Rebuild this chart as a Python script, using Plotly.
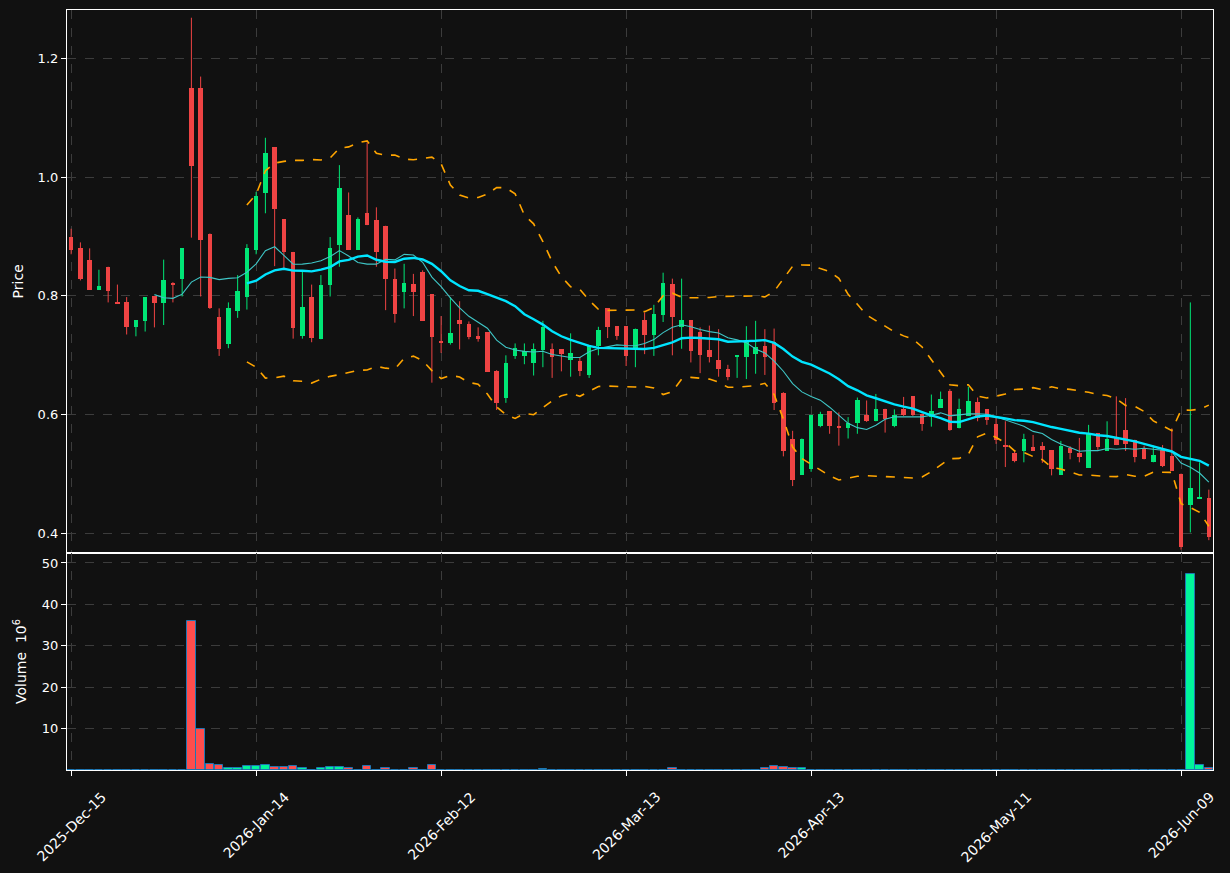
import pandas as pd
import plotly.graph_objects as go

# ---------------- data ----------------
holidays = ["2025-12-25", "2026-01-01", "2026-01-19", "2026-02-16", "2026-04-03", "2026-05-25"]
dates = pd.bdate_range("2025-12-15", "2026-06-12", freq="C", holidays=holidays)

opens = [0.899, 0.880, 0.860, 0.810, 0.848, 0.790, 0.789, 0.748, 0.758, 0.799,
         0.788, 0.821, 0.829, 1.149, 1.149, 0.904, 0.765, 0.719, 0.775, 0.798,
         0.878, 0.973, 1.050, 0.929, 0.874, 0.732, 0.798, 0.727, 0.818, 0.886,
         0.936, 0.878, 0.939, 0.927, 0.917, 0.828, 0.807, 0.820, 0.840, 0.803,
         0.724, 0.720, 0.759, 0.752, 0.732, 0.739, 0.673, 0.629, 0.699, 0.699,
         0.687, 0.709, 0.710, 0.710, 0.692, 0.690, 0.667, 0.716, 0.779, 0.749,
         0.749, 0.710, 0.759, 0.735, 0.768, 0.820, 0.748, 0.759, 0.739, 0.709,
         0.692, 0.677, 0.698, 0.698, 0.703, 0.715, 0.723, 0.636, 0.560, 0.499,
         0.509, 0.581, 0.606, 0.580, 0.577, 0.586, 0.600, 0.589, 0.610, 0.581,
         0.609, 0.631, 0.602, 0.596, 0.612, 0.640, 0.577, 0.598, 0.621, 0.609,
         0.584, 0.549, 0.535, 0.539, 0.546, 0.547, 0.540, 0.499, 0.544, 0.536,
         0.511, 0.569, 0.539, 0.561, 0.574, 0.558, 0.544, 0.520, 0.540, 0.530,
         0.501, 0.449, 0.459, 0.460]
highs = [0.913, 0.890, 0.880, 0.844, 0.849, 0.819, 0.798, 0.759, 0.798, 0.799,
         0.861, 0.823, 0.880, 1.268, 1.169, 0.905, 0.779, 0.789, 0.835, 0.887,
         0.975, 1.066, 1.050, 0.929, 0.874, 0.843, 0.819, 0.835, 0.899, 1.020,
         0.974, 0.932, 1.058, 0.949, 0.918, 0.846, 0.854, 0.837, 0.843, 0.803,
         0.766, 0.798, 0.791, 0.757, 0.747, 0.739, 0.675, 0.700, 0.720, 0.720,
         0.720, 0.758, 0.720, 0.710, 0.737, 0.697, 0.716, 0.748, 0.779, 0.749,
         0.749, 0.745, 0.772, 0.785, 0.839, 0.829, 0.829, 0.759, 0.747, 0.750,
         0.744, 0.684, 0.700, 0.749, 0.758, 0.744, 0.745, 0.638, 0.573, 0.560,
         0.600, 0.605, 0.606, 0.604, 0.596, 0.629, 0.624, 0.635, 0.610, 0.609,
         0.630, 0.631, 0.602, 0.634, 0.639, 0.643, 0.627, 0.647, 0.629, 0.609,
         0.598, 0.589, 0.539, 0.568, 0.566, 0.554, 0.540, 0.556, 0.547, 0.561,
         0.583, 0.569, 0.589, 0.631, 0.628, 0.558, 0.548, 0.548, 0.549, 0.577,
         0.501, 0.789, 0.520, 0.474]
lows = [0.870, 0.826, 0.810, 0.810, 0.789, 0.787, 0.735, 0.732, 0.740, 0.747,
        0.751, 0.789, 0.799, 0.898, 0.799, 0.778, 0.699, 0.712, 0.763, 0.777,
        0.870, 0.939, 0.850, 0.846, 0.728, 0.728, 0.722, 0.727, 0.799, 0.849,
        0.878, 0.878, 0.919, 0.849, 0.776, 0.755, 0.779, 0.766, 0.758, 0.654,
        0.704, 0.718, 0.710, 0.727, 0.723, 0.672, 0.608, 0.620, 0.694, 0.685,
        0.666, 0.680, 0.662, 0.673, 0.664, 0.665, 0.662, 0.700, 0.729, 0.726,
        0.682, 0.680, 0.702, 0.699, 0.756, 0.700, 0.711, 0.688, 0.670, 0.688,
        0.664, 0.658, 0.662, 0.660, 0.669, 0.667, 0.608, 0.530, 0.480, 0.499,
        0.504, 0.579, 0.568, 0.548, 0.560, 0.568, 0.588, 0.589, 0.570, 0.579,
        0.598, 0.598, 0.573, 0.580, 0.612, 0.573, 0.577, 0.598, 0.589, 0.583,
        0.551, 0.512, 0.520, 0.520, 0.539, 0.519, 0.498, 0.499, 0.525, 0.520,
        0.511, 0.541, 0.539, 0.549, 0.539, 0.520, 0.525, 0.520, 0.512, 0.506,
        0.373, 0.402, 0.459, 0.389]
closes = [0.878, 0.829, 0.810, 0.816, 0.808, 0.787, 0.748, 0.759, 0.798, 0.788,
          0.826, 0.819, 0.880, 1.019, 0.894, 0.780, 0.711, 0.780, 0.809, 0.880,
          0.968, 1.040, 0.946, 0.873, 0.746, 0.781, 0.729, 0.818, 0.880, 0.981,
          0.878, 0.929, 0.919, 0.873, 0.829, 0.770, 0.821, 0.807, 0.758, 0.731,
          0.720, 0.737, 0.752, 0.731, 0.727, 0.672, 0.620, 0.687, 0.713, 0.708,
          0.710, 0.748, 0.698, 0.702, 0.704, 0.674, 0.716, 0.742, 0.748, 0.733,
          0.699, 0.745, 0.735, 0.769, 0.821, 0.764, 0.759, 0.708, 0.700, 0.698,
          0.677, 0.664, 0.700, 0.722, 0.714, 0.698, 0.620, 0.539, 0.491, 0.560,
          0.600, 0.602, 0.581, 0.579, 0.586, 0.625, 0.589, 0.610, 0.593, 0.600,
          0.599, 0.600, 0.584, 0.606, 0.626, 0.575, 0.609, 0.623, 0.595, 0.591,
          0.558, 0.547, 0.523, 0.560, 0.539, 0.540, 0.508, 0.547, 0.535, 0.529,
          0.569, 0.546, 0.5585, 0.549, 0.550, 0.529, 0.525, 0.532, 0.514, 0.506,
          0.378, 0.476, 0.461, 0.395]
# volume in millions
volumes = [0.1, 0.1, 0, 0, 0.1, 0.1, 0.1, 0.1, 0.1, 0,
           0.1, 0.1, 0, 36.0, 10.0, 1.35, 1.1, 0.6, 0.6, 0.9,
           0.9, 1.3, 0.7, 0.7, 0.9, 0.45, 0.1, 0.45, 0.7, 0.7,
           0.45, 0.1, 0.9, 0.1, 0.4, 0.1, 0.1, 0.4, 0.1, 1.3,
           0.1, 0.1, 0.1, 0.1, 0, 0.1, 0.1, 0, 0, 0.1,
           0.1, 0.35, 0.1, 0, 0.1, 0, 0.1, 0.1, 0, 0,
           0.1, 0, 0, 0, 0.1, 0.45, 0.1, 0.1, 0.1, 0.1,
           0.1, 0, 0.1, 0.1, 0.1, 0.4, 0.9, 0.7, 0.45, 0.45,
           0.1, 0.1, 0, 0.1, 0, 0.1, 0.1, 0.1, 0, 0,
           0, 0, 0, 0, 0.1, 0.1, 0.1, 0, 0, 0,
           0, 0.1, 0, 0.1, 0, 0.1, 0, 0.1, 0, 0,
           0.1, 0, 0, 0.1, 0.1, 0.1, 0.1, 0, 0.1, 0.1,
           0.1, 47.3, 1.1, 0.6]

tick_pos = [0, 20, 40, 60, 80, 100, 120]
tick_labels = ["2025-Dec-15", "2026-Jan-14", "2026-Feb-12", "2026-Mar-13",
               "2026-Apr-13", "2026-May-11", "2026-Jun-09"]

# ---------------- styling ----------------
BG = "#111111"
UP = "#00e676"
DOWN = "#ef4444"
VUP = "#00f59a"
VDOWN = "#ff4d4d"
GRID = "#3c3c3c"
FONT = "DejaVu Sans"

idx = list(range(len(closes)))
df = pd.DataFrame({"o": opens, "h": highs, "l": lows, "c": closes, "v": volumes}, index=idx)
ma10 = df["c"].rolling(10).mean()
ma20 = df["c"].rolling(20).mean()
sd20 = df["c"].rolling(20).std()
bb_up = ma20 + 2 * sd20
bb_dn = ma20 - 2 * sd20

up = df[df["c"] >= df["o"]]
dn = df[df["c"] < df["o"]]


def wick_xy(sub):
    xs, ys = [], []
    for i, r in sub.iterrows():
        xs += [i, i, None]
        ys += [r["l"], r["h"], None]
    return xs, ys


fig = go.Figure()

for sub, col in ((up, UP), (dn, DOWN)):
    wx, wy = wick_xy(sub)
    fig.add_trace(go.Scatter(x=wx, y=wy, mode="lines", line=dict(color=col, width=1),
                             showlegend=False, hoverinfo="skip", xaxis="x", yaxis="y"))
    base = sub[["o", "c"]].min(axis=1)
    height = (sub["c"] - sub["o"]).abs()
    fig.add_trace(go.Bar(x=list(sub.index), y=list(height), base=list(base), width=0.5,
                         marker=dict(color=col, line=dict(width=0)),
                         showlegend=False, xaxis="x", yaxis="y"))

fig.add_trace(go.Scatter(x=idx, y=ma10, mode="lines", line=dict(color="#3fc6c6", width=1.1),
                         showlegend=False, xaxis="x", yaxis="y"))
fig.add_trace(go.Scatter(x=idx, y=ma20, mode="lines", line=dict(color="#00e5ff", width=2.4),
                         showlegend=False, xaxis="x", yaxis="y"))
for band in (bb_up, bb_dn):
    fig.add_trace(go.Scatter(x=idx, y=band, mode="lines",
                             line=dict(color="#ffa500", width=1.6, dash="dash"),
                             showlegend=False, xaxis="x", yaxis="y"))

vcol = [VUP if c >= o else VDOWN for o, c in zip(opens, closes)]
fig.add_trace(go.Bar(x=idx, y=volumes, width=0.92,
                     marker=dict(color=vcol, line=dict(color="#1f77b4", width=1)),
                     showlegend=False, xaxis="x2", yaxis="y2"))

axis_common = dict(showgrid=True, gridcolor=GRID, griddash="dash", gridwidth=0.8,
                   showline=True, linecolor="white", linewidth=1.2, mirror=True,
                   zeroline=False, tickcolor="white", ticklen=5, tickwidth=1,
                   automargin=False,
                   tickfont=dict(family=FONT, size=13, color="white"))

# date tick labels, rotated and centred on their ticks
for p, lab in zip(tick_pos, tick_labels):
    fig.add_annotation(x=p, y=0, xref="x2", yref="paper", text=lab, textangle=-45,
                       showarrow=False, xanchor="center", yanchor="top", yshift=-16,
                       font=dict(family=FONT, size=14, color="white"))

fig.update_layout(
    width=1230, height=873,
    paper_bgcolor=BG, plot_bgcolor=BG,
    margin=dict(l=67, r=17, t=10, b=103),
    barmode="overlay", bargap=0,
    font=dict(family=FONT, color="white"),
    xaxis=dict(domain=[0, 1], range=[-0.45, 123.45], tickvals=tick_pos,
               showticklabels=False, ticks="", anchor="y", **axis_common),
    xaxis2=dict(domain=[0, 1], range=[-0.45, 123.45], tickvals=tick_pos,
                showticklabels=False, ticks="outside", anchor="y2",
                matches="x", **axis_common),
    yaxis=dict(domain=[0.286, 1], range=[0.368, 1.281],
               tickvals=[0.4, 0.6, 0.8, 1.0, 1.2], tickformat=".1f", ticks="outside",
               title=dict(text="Price", font=dict(family=FONT, size=14, color="white"), standoff=10),
               anchor="x", **axis_common),
    yaxis2=dict(domain=[0, 0.2855], range=[0, 52.4], tickvals=[10, 20, 30, 40, 50],
                ticks="outside",
                title=dict(text="Volume  10<sup>6</sup>", font=dict(family=FONT, size=14, color="white"),
                           standoff=11),
                anchor="x2", **axis_common),
)

fig.write_html("out.html")
